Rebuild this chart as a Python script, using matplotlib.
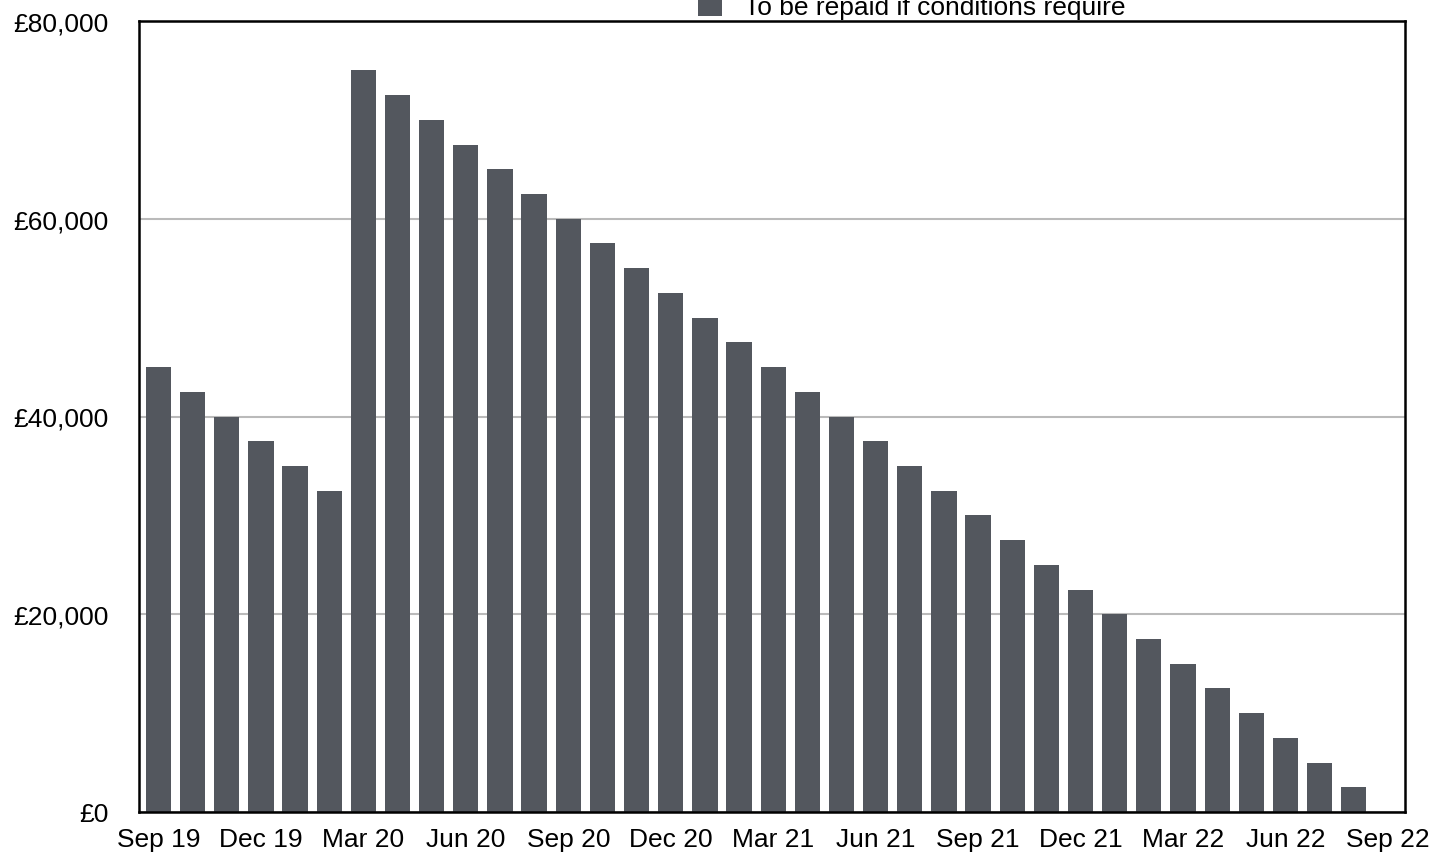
import matplotlib
matplotlib.use("Agg")
import matplotlib.pyplot as plt
from matplotlib.ticker import FuncFormatter

plt.rcParams['font.family'] = ['Liberation Sans', 'DejaVu Sans']

# Monthly balances, Sep 19 to Aug 22
months = [
    "Sep 19", "Oct 19", "Nov 19", "Dec 19", "Jan 20", "Feb 20",
    "Mar 20", "Apr 20", "May 20", "Jun 20", "Jul 20", "Aug 20",
    "Sep 20", "Oct 20", "Nov 20", "Dec 20", "Jan 21", "Feb 21",
    "Mar 21", "Apr 21", "May 21", "Jun 21", "Jul 21", "Aug 21",
    "Sep 21", "Oct 21", "Nov 21", "Dec 21", "Jan 22", "Feb 22",
    "Mar 22", "Apr 22", "May 22", "Jun 22", "Jul 22", "Aug 22",
]
repayable = [
    45000, 42500, 40000, 37500, 35000, 32500,
    75000, 72500, 70000, 67500, 65000, 62500,
    60000, 57500, 55000, 52500, 50000, 47500,
    45000, 42500, 40000, 37500, 35000, 32500,
    30000, 27500, 25000, 22500, 20000, 17500,
    15000, 12500, 10000, 7500, 5000, 2500,
]
tick_labels = ["Sep 19", "Dec 19", "Mar 20", "Jun 20", "Sep 20", "Dec 20",
               "Mar 21", "Jun 21", "Sep 21", "Dec 21", "Mar 22", "Jun 22",
               "Sep 22"]
series_label = "To be repaid if conditions require"

W, H = 1433, 854
fig = plt.figure(figsize=(W / 100, H / 100), dpi=100)
ax = fig.add_axes([139.3 / W, 41 / H, (1405 - 139.3) / W, (813 - 22) / H])

x = list(range(len(months)))
bars = ax.bar(x, repayable, width=0.74, color="#53575e", zorder=3,
              label=series_label)

ax.set_xlim(-0.56, 36.5)
ax.set_ylim(0, 80000)
ax.set_xticks(range(0, 37, 3))
ax.set_xticklabels(tick_labels)
ax.set_yticks([0, 20000, 40000, 60000, 80000])
ax.yaxis.set_major_formatter(FuncFormatter(lambda v, p: f"£{int(v):,}"))

ax.tick_params(axis="both", length=0, labelsize=19, colors="black")
ax.tick_params(axis="x", pad=10.5)
ax.tick_params(axis="y", pad=22)

ax.grid(axis="y", color="#bababa", linewidth=1.5, zorder=0)
ax.set_axisbelow(True)
for s in ax.spines.values():
    s.set_linewidth(1.8)
    s.set_color("black")
    s.set_zorder(5)

fig.legend(handles=[bars], labels=[series_label], loc="lower left",
           bbox_to_anchor=(698 / W, (H - 20.5) / H), frameon=False,
           fontsize=19, borderpad=0, borderaxespad=0,
           handlelength=0.9, handleheight=0.9, handletextpad=0.85)

fig.savefig("out.png", dpi=100, facecolor="white")
